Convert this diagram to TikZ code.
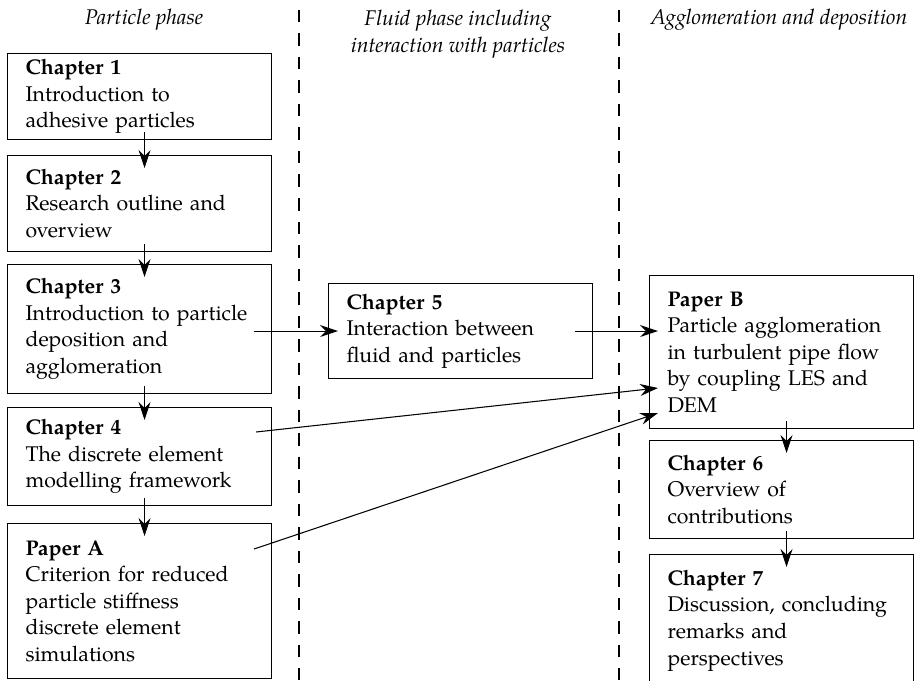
\documentclass[tikz,border=0pt]{standalone}
\usepackage{fontspec}
\setmainfont{TeX Gyre Pagella}
\usetikzlibrary{positioning, arrows.meta}
\tikzset{
    chapbox/.style={draw, line width=0.6pt, anchor=north west, align=left,
        text width=4.56cm, inner xsep=0.36cm, inner ysep=0pt,
        font=\fontsize{12.1}{15.1}\selectfont},
    phase/.style={font=\fontsize{12.1}{15.1}\selectfont\itshape, align=center, inner sep=0pt},
    flow/.style={-{Stealth[length=0.36cm, width=0.24cm, inset=0.12cm]}, line width=0.6pt},
    divider/.style={line width=0.8pt, dash pattern=on 0.25cm off 0.22cm}
}

\begin{document}
\begin{tikzpicture}
                \useasboundingbox (0,0) rectangle (18.28,-13.6);

                \node[phase, anchor=base] (hpart) at (2.88,-0.5) {Particle phase};
                \node[phase] (hfluid) at (9.16,-0.68) {Fluid phase including\\interaction with particles};
                \node[phase, anchor=base] (hagg) at (15.58,-0.5) {Agglomeration and deposition};

                \draw[divider] (5.98,-0.2) -- (5.98,-13.6);
                \draw[divider] (12.38,-0.2) -- (12.38,-13.6);

                \node[chapbox, minimum height=1.72cm] (ch1) at (0.14,-1.06)
                    {\textbf{Chapter 1}\\Introduction to\\adhesive particles};
                \node[chapbox, minimum height=1.92cm] (ch2) at (0.14,-3.10)
                    {\textbf{Chapter 2}\\Research outline and\\overview};
                \node[chapbox, minimum height=2.58cm] (ch3) at (0.14,-5.28)
                    {\textbf{Chapter 3}\\Introduction to particle\\deposition and\\agglomeration};
                \node[chapbox, minimum height=1.96cm] (ch4) at (0.14,-8.14)
                    {\textbf{Chapter 4}\\The discrete element\\modelling framework};
                \node[chapbox, minimum height=3.10cm] (papA) at (0.14,-10.46)
                    {\textbf{Paper A}\\Criterion for reduced\\particle stiffness\\discrete element\\simulations};

                \node[chapbox, minimum height=1.90cm] (ch5) at (6.56,-5.66)
                    {\textbf{Chapter 5}\\Interaction between\\fluid and particles};

                \node[chapbox, minimum height=3.06cm] (papB) at (12.98,-5.50)
                    {\textbf{Paper B}\\Particle agglomeration\\in turbulent pipe flow\\by coupling LES and\\DEM};
                \node[chapbox, minimum height=1.96cm] (ch6) at (12.98,-8.80)
                    {\textbf{Chapter 6}\\Overview of\\contributions};
                \node[chapbox, minimum height=2.64cm] (ch7) at (12.98,-11.08)
                    {\textbf{Chapter 7}\\Discussion, concluding\\remarks and\\perspectives};

                \draw[flow] ([xshift=0.1cm,yshift=0.16cm]ch1.south) -- ([xshift=0.1cm,yshift=-0.26cm]ch2.north);
                \draw[flow] ([xshift=0.1cm,yshift=0.16cm]ch2.south) -- ([xshift=0.1cm,yshift=-0.26cm]ch3.north);
                \draw[flow] ([xshift=0.1cm,yshift=0.16cm]ch3.south) -- ([xshift=0.1cm,yshift=-0.26cm]ch4.north);
                \draw[flow] ([xshift=0.1cm,yshift=0.16cm]ch4.south) -- ([xshift=0.1cm,yshift=-0.26cm]papA.north);
                \draw[flow] ([xshift=0.1cm,yshift=0.16cm]papB.south) -- ([xshift=0.1cm,yshift=-0.26cm]ch6.north);
                \draw[flow] ([xshift=0.1cm,yshift=0.16cm]ch6.south) -- ([xshift=0.1cm,yshift=-0.26cm]ch7.north);

                \draw[flow] ([xshift=-0.37cm]ch3.east |- ch5.west) -- ([xshift=0.2cm]ch5.west);
                \draw[flow] ([xshift=-0.36cm]ch5.east) -- ([xshift=0.18cm]papB.west |- ch5.east);
                \draw[flow] ([xshift=-0.32cm,yshift=-0.5cm]ch4.north east) -- ([xshift=0.18cm,yshift=-2.26cm]papB.north west);
                \draw[flow] ([xshift=-0.36cm,yshift=-0.52cm]papA.north east) -- ([xshift=0.18cm,yshift=-2.76cm]papB.north west);
\end{tikzpicture}
\end{document}
